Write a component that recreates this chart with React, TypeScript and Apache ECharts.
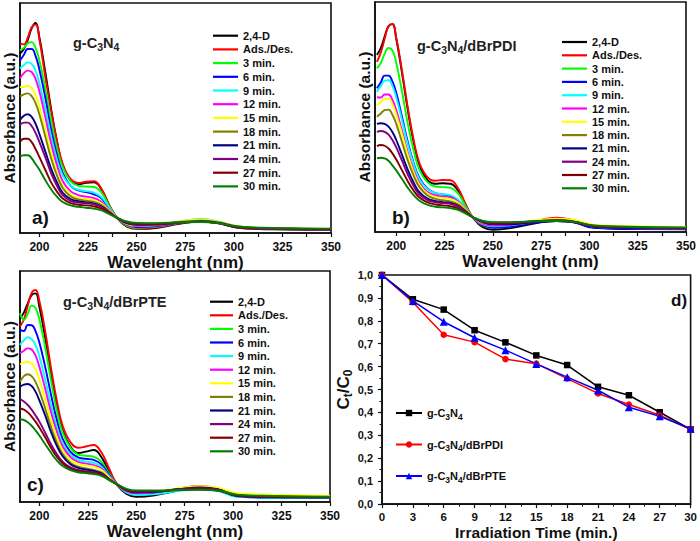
import React, { useEffect, useRef } from "react";
import * as echarts from "echarts";

const FONT = "Liberation Sans, Arial, sans-serif";

// ---- Spectra (panels a, b, c) ----
const wavelengths = [190, 192, 194, 196, 198, 200, 203, 206, 209, 212, 216, 220, 224, 228, 232, 236, 240, 245, 250, 260, 272, 283, 292, 302, 320, 350];
const legendNames = ["2,4-D", "Ads./Des.", "3 min.", "6 min.", "9 min.", "12 min.", "15 min.", "18 min.", "21 min.", "24 min.", "27 min.", "30 min."];
const spectrumColors = ["#000000", "#ff0000", "#00ff00", "#0000ff", "#00ffff", "#ff00ff", "#ffff00", "#808000", "#000080", "#800080", "#800000", "#008000"];
const xTickLabels = [200, 225, 250, 275, 300, 325, 350];
const xTickMarks = [200, 212.5, 225, 237.5, 250, 262.5, 275, 287.5, 300, 312.5, 325, 337.5, 350];

// panel a: g-C3N4
const a_24D = [78, 80, 84, 89, 91.3, 85, 70, 54, 40, 29.5, 23, 21.2, 21.8, 22, 18.8, 12, 6.5, 2.8, 1.8, 2.2, 4, 5, 4.3, 2.3, 1.6, 1.4];
const a_ads = [82.5, 82, 85, 89.5, 90.6, 84, 68, 53, 40, 30, 23.5, 21.8, 22.3, 22.5, 19, 12, 6.5, 3, 2, 2.5, 4.2, 5.2, 4.5, 2.5, 1.8, 1.5];
const a_3 = [79.5, 80.5, 82.5, 83, 80.5, 75, 63, 49, 37, 28.5, 22.5, 20.5, 20.2, 20, 17.5, 11.5, 6.5, 3.2, 2.3, 2.8, 4.4, 5.6, 4.5, 2.5, 1.9, 1.6];
const a_6 = [75, 77.5, 80, 80, 77, 71, 59, 45, 34, 26, 20.5, 18.5, 17.8, 16.8, 15, 10.5, 6.4, 3.5, 2.6, 3, 4.5, 5.5, 4.5, 2.6, 1.9, 1.6];
const a_9 = [71.5, 73, 74.2, 73.5, 70.5, 65, 54, 42, 32, 25, 20.5, 18.8, 18.2, 17.6, 15.5, 11, 6.5, 3.8, 3, 3.4, 4.9, 6.2, 5, 2.8, 2, 1.7];
const a_12 = [67.3, 69.5, 70.6, 70, 67, 61.5, 50.5, 39, 29.5, 22.5, 18.2, 16.5, 15.8, 15.2, 13.5, 10, 6.5, 3.8, 3, 3.3, 4.6, 5.4, 4.5, 2.6, 1.9, 1.6];
const a_15 = [63.5, 63.5, 64, 63, 60, 55, 45, 35, 26.5, 20.5, 16.8, 15.3, 14.7, 14.2, 12.8, 9.7, 6.5, 4, 3.3, 3.6, 5, 5.9, 4.9, 2.9, 2.1, 1.8];
const a_18 = [59.3, 60.3, 60.7, 59.5, 56.5, 51.5, 42, 32.5, 25, 19.5, 16, 14.6, 14, 13.5, 12.2, 9.3, 6.5, 4.2, 3.6, 3.8, 4.8, 5.3, 4.7, 2.9, 2.1, 1.8];
const a_21 = [49.2, 51, 51.6, 50.5, 47.5, 43, 35.5, 28, 22, 17.5, 14.8, 13.8, 13.3, 12.8, 11.5, 9, 6.5, 4.3, 3.6, 3.7, 4.6, 5, 4.4, 2.6, 2, 1.7];
const a_24 = [47, 48, 48, 46.5, 43.5, 39.5, 33, 26, 20.5, 16.5, 14, 13.2, 12.9, 12.5, 11.3, 9, 6.6, 4.5, 3.8, 3.8, 4.5, 4.9, 4.2, 2.4, 1.8, 1.5];
const a_27 = [39.7, 41, 41, 39.5, 36.5, 33, 27.5, 22, 18, 15, 13, 12.3, 12, 11.6, 10.6, 8.7, 6.6, 4.7, 4, 4, 4.6, 4.9, 4.3, 2.6, 2, 1.7];
const a_30 = [33.2, 33.8, 33.8, 32.5, 30, 27.5, 23, 19, 15.8, 13.5, 12, 11.4, 11, 10.6, 9.8, 8.2, 6.6, 5, 4.4, 4.3, 4.7, 4.8, 4.3, 2.8, 2.2, 1.9];

// panel b: g-C3N4/dBrPDI
const b_24D = [77, 80, 85, 89.5, 90.4, 84, 69, 53, 39, 29, 22.8, 21, 21.2, 21, 18, 11.5, 5.8, 2, 1, 1.8, 3.8, 4.8, 4.2, 2, 1.4, 1.3];
const b_ads = [74, 78, 84, 89.5, 90.5, 84.5, 70, 54, 40, 30, 24, 22.3, 22.6, 22.5, 19, 12, 6, 2.8, 2.2, 3, 4.8, 6.2, 5, 2.5, 1.8, 1.6];
const b_3 = [71.2, 73.5, 77.5, 80, 79, 73.5, 61, 47, 35.5, 27, 21.8, 19.8, 19.5, 19.2, 16.8, 11, 6, 3, 2.4, 3, 4.6, 5.6, 4.8, 2.6, 1.9, 1.6];
const b_6 = [62.5, 65, 68, 68, 65.5, 60.5, 50, 39, 30, 23.5, 19, 17, 16.3, 15.6, 13.8, 9.8, 6, 3, 1.8, 2.4, 4, 4.8, 4.2, 1.8, 1.3, 1.2];
const b_9 = [61, 63.5, 65.8, 66, 63.5, 58.5, 48.5, 38, 29.5, 23, 18.8, 17, 16.4, 16, 14, 10, 6, 3.3, 2.5, 3, 4.5, 5.3, 4.6, 2.3, 1.7, 1.5];
const b_12 = [58.6, 58.5, 59.8, 59.8, 57.5, 53, 44, 34.5, 27, 21.3, 17.5, 16, 15.4, 15, 13.3, 9.7, 6, 3.5, 2.8, 3.2, 4.6, 5.5, 4.7, 2.4, 1.8, 1.6];
const b_15 = [55.2, 56.5, 58, 58, 55.5, 51, 42.5, 33.5, 26, 20.5, 16.8, 15.3, 14.8, 14.4, 12.8, 9.6, 6.2, 4, 3.4, 3.8, 5, 5.8, 5.2, 3.2, 2.5, 2.2];
const b_18 = [50.1, 51.5, 53, 53.2, 51, 47, 39, 31, 24.5, 19.5, 16, 14.5, 13.8, 13.3, 12, 9.2, 6.2, 4.1, 3.5, 3.7, 4.6, 5.2, 4.6, 2.6, 2, 1.8];
const b_21 = [47, 47.3, 47, 45.8, 43.5, 40, 33.5, 27, 21.5, 17.3, 14.6, 13.5, 13, 12.6, 11.4, 8.9, 6.2, 4.2, 3.3, 3.4, 4.3, 4.8, 4.3, 2.3, 1.7, 1.5];
const b_24 = [43.5, 43.9, 43.5, 42.3, 40, 36.8, 31, 25, 20, 16.3, 14, 13, 12.6, 12.2, 11.1, 8.8, 6.3, 4.4, 3.7, 3.8, 4.6, 5, 4.4, 2.5, 1.9, 1.7];
const b_27 = [37.3, 37.8, 37.5, 36.3, 34.2, 31.5, 26.8, 22, 18, 15, 13, 12, 11.6, 11.2, 10.3, 8.4, 6.3, 4.6, 4, 4.1, 4.7, 5, 4.5, 2.7, 2.1, 1.8];
const b_30 = [32, 32.3, 32, 31, 29, 26.8, 23, 19.2, 16, 13.6, 11.9, 11, 10.7, 10.4, 9.6, 8, 6.3, 4.8, 4.3, 4.3, 4.7, 4.8, 4.4, 2.9, 2.3, 2];

// panel c: g-C3N4/dBrPTE
const c_24D = [79.5, 82, 86, 89.5, 90.3, 84.5, 71, 55.5, 41.5, 31, 24, 21.2, 21.8, 22.5, 19.5, 13, 7.5, 3.5, 2.3, 3, 5, 5.8, 5, 2.6, 2.1, 2];
const c_ads = [76, 79, 85, 90.5, 91.8, 87, 74, 58, 44, 33, 26, 23.5, 24, 24.7, 21.5, 14.5, 8, 4.8, 4, 4.2, 5.8, 7, 5.8, 3.2, 2.6, 2.3];
const c_3 = [81.7, 78.8, 81.5, 85, 84, 79, 67, 52.5, 39.5, 30, 23.5, 20.5, 20, 19.6, 17.5, 12.3, 7.7, 4.5, 3.8, 4.2, 5.4, 6, 5.2, 3, 2.4, 2.1];
const c_6 = [74.5, 74, 76.6, 76.5, 74, 69, 58.5, 46.5, 35.5, 27.3, 21.7, 19.3, 18.7, 18.2, 16.3, 11.7, 7.7, 4.6, 3.6, 4, 5.5, 6.3, 5.5, 2.5, 1.8, 1.7];
const c_9 = [68, 70, 71.3, 70.5, 68, 63, 53, 42, 32.5, 25.5, 20.5, 18.3, 17.5, 17, 15.3, 11.2, 7.6, 4, 3, 3.4, 4.8, 5.5, 4.8, 2.2, 1.8, 1.7];
const c_12 = [64.4, 65.5, 66.5, 66, 63.5, 58.5, 49, 39, 30.5, 24, 19.5, 17.4, 16.6, 16, 14.5, 10.8, 7.6, 4.6, 3.8, 4.2, 5.6, 6.6, 5.6, 2.8, 2.2, 2];
const c_15 = [59.7, 60.3, 60.7, 60, 57.5, 53, 44.5, 35.5, 28, 22.3, 18.3, 16.5, 15.8, 15.3, 13.9, 10.6, 7.6, 5, 4.3, 4.7, 6, 6.8, 6.2, 3.8, 3.2, 2.6];
const c_18 = [52.1, 54.5, 55.3, 54.5, 52, 48, 40.5, 32.5, 25.8, 20.8, 17, 15.3, 14.5, 13.9, 12.8, 10, 7.6, 5, 4.3, 4.5, 5.4, 6, 5.3, 2.9, 2.4, 2.1];
const c_21 = [49.9, 50.8, 51.1, 50.2, 47.8, 44, 37.5, 30.3, 24.3, 19.8, 16.3, 14.8, 14, 13.4, 12.4, 9.9, 7.6, 5, 4.2, 4.4, 5.6, 6.3, 5.6, 2.6, 2, 1.9];
const c_24 = [44.5, 43.5, 42, 40, 37.5, 34.8, 30, 25, 20.8, 17.5, 15, 13.9, 13.3, 12.9, 12, 9.8, 7.7, 5.2, 4.5, 4.6, 5.5, 6, 5.4, 2.8, 2.2, 2];
const c_27 = [40.5, 40, 38.8, 37, 34.8, 32.3, 28, 23.5, 19.6, 16.7, 14.5, 13.4, 12.9, 12.4, 11.6, 9.6, 7.7, 5.4, 4.7, 4.7, 5.2, 5.5, 5, 2.9, 2.4, 2.2];
const c_30 = [35.8, 35.5, 34.5, 33, 31, 28.8, 25, 21.3, 18, 15.6, 13.8, 12.9, 12.5, 12.1, 11.3, 9.5, 7.8, 5.7, 5, 5, 5.2, 5.3, 5, 3.2, 2.6, 2.3];

// ---- Kinetics (panel d) ----
const times = [0, 3, 6, 9, 12, 15, 18, 21, 24, 27, 30];
const d_C3N4 = [1.0, 0.894, 0.849, 0.759, 0.706, 0.649, 0.607, 0.512, 0.475, 0.401, 0.326];
const d_PDI = [1.0, 0.881, 0.739, 0.707, 0.633, 0.613, 0.548, 0.483, 0.435, 0.388, 0.325];
const d_PTE = [1.0, 0.887, 0.796, 0.726, 0.672, 0.612, 0.554, 0.497, 0.423, 0.383, 0.329];
const dNames = ["g-C3N4", "g-C3N4/dBrPDI", "g-C3N4/dBrPTE"];
const dRich: Record<string, string> = {
  "g-C3N4": "g-C{s|3}N{s|4}",
  "g-C3N4/dBrPDI": "g-C{s|3}N{s|4}/dBrPDI",
  "g-C3N4/dBrPTE": "g-C{s|3}N{s|4}/dBrPTE",
};

const panelA = [a_24D, a_ads, a_3, a_6, a_9, a_12, a_15, a_18, a_21, a_24, a_27, a_30];
const panelB = [b_24D, b_ads, b_3, b_6, b_9, b_12, b_15, b_18, b_21, b_24, b_27, b_30];
const panelC = [c_24D, c_ads, c_3, c_6, c_9, c_12, c_15, c_18, c_21, c_24, c_27, c_30];

const AX = "#111111";

function specXAxis(gridIndex: number, min: number) {
  return {
    type: "value",
    gridIndex,
    min,
    max: 350,
    axisLine: { show: true, lineStyle: { color: AX, width: 1.6 } },
    axisTick: { show: true, inside: false, length: 4, customValues: xTickMarks, lineStyle: { color: AX, width: 1.2 } },
    axisLabel: { customValues: xTickLabels, fontSize: 12, fontWeight: "bold", color: AX, fontFamily: FONT, margin: 8 },
    splitLine: { show: false },
    name: "Wavelenght (nm)",
    nameLocation: "middle",
    nameGap: 19,
    nameTextStyle: { fontSize: 17, fontWeight: "bold", color: AX, fontFamily: FONT },
  };
}

function specYAxis(gridIndex: number) {
  return {
    type: "value",
    gridIndex,
    min: 0,
    max: 100,
    axisLine: { show: true, lineStyle: { color: AX, width: 1.6 } },
    axisTick: { show: false },
    axisLabel: { show: false },
    splitLine: { show: false },
    name: "Absorbance (a.u.)",
    nameLocation: "middle",
    nameRotate: 90,
    nameGap: 3,
    nameTextStyle: { fontSize: 15.5, fontWeight: "bold", color: AX, fontFamily: FONT },
  };
}

function specSeries(panel: number[][], idx: number) {
  return panel.map((vals, i) => ({
    type: "line",
    name: legendNames[i],
    xAxisIndex: idx,
    yAxisIndex: idx,
    data: wavelengths.map((w, j) => [w, vals[j]]),
    symbol: "none",
    showSymbol: false,
    smooth: 0.45,
    lineStyle: { width: 1.9, color: spectrumColors[i] },
    itemStyle: { color: spectrumColors[i] },
  }));
}

function specLegend(left: number, firstRowY: number, rowH: number, itemWidth: number) {
  return {
    orient: "vertical",
    left,
    top: firstRowY - rowH / 2,
    padding: 0,
    itemGap: 0,
    itemWidth,
    itemHeight: 2.2,
    icon: "rect",
    selectedMode: false,
    data: legendNames,
    textStyle: { fontSize: 11, fontWeight: "bold", color: AX, fontFamily: FONT, lineHeight: rowH },
  };
}

function titleText(x: number, y: number, suffix: string) {
  return {
    type: "text",
    left: x,
    top: y,
    style: {
      text: "g-C{s|3}N{s|4}" + suffix,
      fontSize: 14.5,
      fontWeight: "bold",
      fontFamily: FONT,
      fill: "#222",
      lineHeight: 19,
      rich: { s: { fontSize: 10.5, fontWeight: "bold", fontFamily: FONT, fill: "#222", verticalAlign: "bottom", lineHeight: 11 } },
    },
  };
}

function panelLabel(x: number, y: number, t: string, size: number) {
  return {
    type: "text",
    left: x,
    top: y,
    style: { text: t, fontSize: size, fontWeight: "bold", fontFamily: FONT, fill: "#111" },
  };
}

export default function App() {
  const ref = useRef<HTMLDivElement>(null);
  useEffect(() => {
    if (!ref.current) return;
    const chart = echarts.init(ref.current, null, { renderer: "svg" });
    const dColors = ["#000000", "#ff0000", "#0000ff"];
    const dSymbols = ["rect", "circle", "triangle"];
    const dData = [d_C3N4, d_PDI, d_PTE];
    const option: any = {
      animation: false,
      backgroundColor: "#ffffff",
      textStyle: { fontFamily: FONT },
      grid: [
        { left: 19, top: 3, width: 312, height: 230, show: true, borderColor: AX, borderWidth: 1.6, backgroundColor: "transparent" },
        { left: 375, top: 2, width: 311, height: 230, show: true, borderColor: AX, borderWidth: 1.6, backgroundColor: "transparent" },
        { left: 20, top: 271, width: 310, height: 231, show: true, borderColor: AX, borderWidth: 1.6, backgroundColor: "transparent" },
        { left: 382, top: 275, width: 310, height: 230, show: true, borderColor: AX, borderWidth: 1.6, backgroundColor: "transparent" },
      ],
      xAxis: [
        specXAxis(0, 190),
        specXAxis(1, 189),
        specXAxis(2, 190),
        {
          type: "value",
          gridIndex: 3,
          min: 0,
          max: 30,
          interval: 3,
          axisLine: { show: true, lineStyle: { color: AX, width: 1.6 } },
          axisTick: { show: true, inside: false, length: 4, lineStyle: { color: AX, width: 1.2 } },
          minorTick: { show: true, splitNumber: 2, length: 2.5, lineStyle: { color: AX, width: 1 } },
          axisLabel: { fontSize: 11.5, fontWeight: "bold", color: AX, fontFamily: FONT, margin: 7 },
          splitLine: { show: false },
          name: "Irradiation Time (min.)",
          nameLocation: "middle",
          nameGap: 16,
          nameTextStyle: { fontSize: 15.5, fontWeight: "bold", color: AX, fontFamily: FONT },
        },
      ],
      yAxis: [
        specYAxis(0),
        specYAxis(1),
        specYAxis(2),
        {
          type: "value",
          gridIndex: 3,
          min: 0,
          max: 1,
          interval: 0.1,
          axisLine: { show: true, lineStyle: { color: AX, width: 1.6 } },
          axisTick: { show: true, inside: false, length: 4, lineStyle: { color: AX, width: 1.2 } },
          minorTick: { show: true, splitNumber: 2, length: 2.5, lineStyle: { color: AX, width: 1 } },
          axisLabel: {
            fontSize: 11,
            fontWeight: "bold",
            color: AX,
            fontFamily: FONT,
            margin: 9,
            formatter: (v: number) => v.toFixed(1).replace(".", ","),
          },
          splitLine: { show: false },
          name: "C{s|t}/C{s|0}",
          nameLocation: "middle",
          nameRotate: 90,
          nameGap: 24,
          nameTextStyle: {
            fontSize: 17,
            fontWeight: "bold",
            color: AX,
            fontFamily: FONT,
            lineHeight: 20,
            rich: { s: { fontSize: 12, fontWeight: "bold", color: AX, fontFamily: FONT, verticalAlign: "bottom", lineHeight: 12 } },
          },
        },
      ],
      legend: [
        specLegend(213, 35.7, 13.7, 25),
        specLegend(562, 42, 13.3, 25),
        specLegend(210, 301.7, 13.6, 23),
        {
          orient: "vertical",
          left: 395,
          top: 405,
          padding: 0,
          itemGap: 15.5,
          itemWidth: 26,
          itemHeight: 8,
          selectedMode: false,
          data: dNames,
          formatter: (name: string) => dRich[name] || name,
          textStyle: {
            fontSize: 11,
            fontWeight: "bold",
            color: AX,
            fontFamily: FONT,
            lineHeight: 16,
            rich: { s: { fontSize: 8.5, fontWeight: "bold", color: AX, fontFamily: FONT, verticalAlign: "bottom", lineHeight: 10 } },
          },
        },
      ],
      graphic: [
        titleText(73, 33, ""),
        titleText(417, 36, "/dBrPDI"),
        titleText(63, 292, "/dBrPTE"),
        panelLabel(32, 208, "a)", 19),
        panelLabel(392, 208, "b)", 19),
        panelLabel(27, 475, "c)", 19),
        panelLabel(671, 292, "d)", 17),
      ],
      series: [
        ...specSeries(panelA, 0),
        ...specSeries(panelB, 1),
        ...specSeries(panelC, 2),
        ...dData.map((vals, i) => ({
          type: "line",
          name: dNames[i],
          xAxisIndex: 3,
          yAxisIndex: 3,
          data: times.map((t, j) => [t, vals[j]]),
          symbol: dSymbols[i],
          symbolSize: i === 2 ? 8 : 6.5,
          showSymbol: true,
          lineStyle: { width: 1.5, color: dColors[i] },
          itemStyle: { color: dColors[i] },
        })),
      ],
    };
    chart.setOption(option);
    return () => chart.dispose();
  }, []);
  return <div ref={ref} style={{ position: "absolute", left: 0, top: 0, width: 700, height: 541 }} />;
}
